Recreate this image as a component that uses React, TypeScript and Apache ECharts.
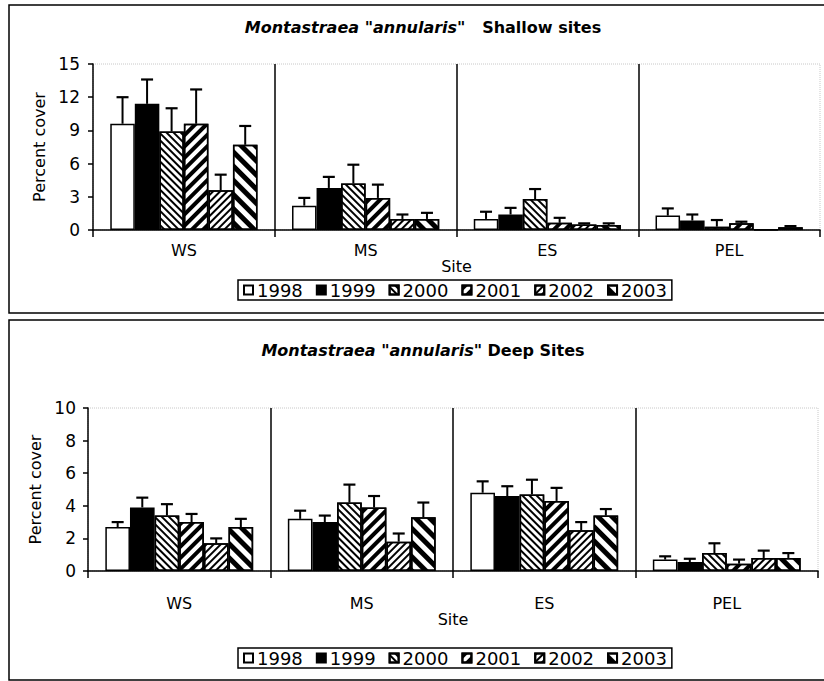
import React, { useEffect, useRef } from "react";
import * as echarts from "echarts";

const sites = ["WS", "MS", "ES", "PEL"];
const years = ["1998", "1999", "2000", "2001", "2002", "2003"];

// Shallow sites: mean percent cover per year (rows) and site (columns)
const shallowMean: number[][] = [
  [9.6, 2.2, 1.0, 1.3],
  [11.4, 3.8, 1.4, 0.85],
  [8.9, 4.2, 2.8, 0.3],
  [9.6, 2.9, 0.65, 0.6],
  [3.6, 1.0, 0.5, 0.05],
  [7.7, 1.0, 0.45, 0.25],
];
// Shallow sites: top of the error bar
const shallowErrTop: number[][] = [
  [12.0, 2.9, 1.65, 1.95],
  [13.6, 4.8, 2.0, 1.4],
  [11.0, 5.9, 3.7, 0.9],
  [12.7, 4.1, 1.1, 0.75],
  [5.0, 1.4, 0.6, 0.05],
  [9.4, 1.55, 0.6, 0.35],
];
// Deep sites
const deepMean: number[][] = [
  [2.7, 3.2, 4.8, 0.7],
  [3.9, 3.0, 4.6, 0.55],
  [3.4, 4.2, 4.7, 1.1],
  [3.0, 3.9, 4.3, 0.45],
  [1.7, 1.8, 2.5, 0.8],
  [2.7, 3.3, 3.4, 0.8],
];
const deepErrTop: number[][] = [
  [3.0, 3.7, 5.5, 0.9],
  [4.5, 3.4, 5.2, 0.75],
  [4.1, 5.3, 5.6, 1.7],
  [3.5, 4.6, 5.1, 0.7],
  [2.0, 2.3, 3.0, 1.25],
  [3.2, 4.2, 3.8, 1.1],
];

const shallowTicks = { min: 0, max: 15, interval: 3 };
const deepTicks = { min: 0, max: 10, interval: 2 };

const FONT = "DejaVu Sans";
const CAT_GAP = 0.19;

const decals: any[] = [
  null,
  null,
  { symbol: "rect", symbolSize: 1, dashArrayX: [1, 0], dashArrayY: [2, 2.5], rotation: Math.PI / 4, color: "#000" },
  { symbol: "rect", symbolSize: 1, dashArrayX: [1, 0], dashArrayY: [4, 4], rotation: -Math.PI / 4, color: "#000" },
  { symbol: "rect", symbolSize: 1, dashArrayX: [1, 0], dashArrayY: [1.8, 2.5], rotation: -Math.PI / 4, color: "#000" },
  { symbol: "rect", symbolSize: 1, dashArrayX: [1, 0], dashArrayY: [4.5, 4.5], rotation: Math.PI / 4, color: "#000" },
];
const fills = ["#fff", "#000", "#fff", "#fff", "#fff", "#fff"];

function barSeries(means: number[][], gi: number) {
  return years.map((y, i) => ({
    name: y,
    type: "bar",
    xAxisIndex: gi,
    yAxisIndex: gi,
    data: means[i],
    barGap: "0%",
    barCategoryGap: CAT_GAP * 100 + "%",
    itemStyle: {
      color: fills[i],
      borderColor: "#000",
      borderWidth: 1.5,
      ...(decals[i] ? { decal: decals[i] } : {}),
    },
    emphasis: { disabled: true },
    silent: true,
  }));
}

function errSeries(means: number[][], tops: number[][], gi: number) {
  const data: number[][] = [];
  for (let yi = 0; yi < years.length; yi++) {
    for (let ci = 0; ci < sites.length; ci++) {
      data.push([ci, yi, means[yi][ci], tops[yi][ci]]);
    }
  }
  return {
    type: "custom",
    name: "err" + gi,
    xAxisIndex: gi,
    yAxisIndex: gi,
    silent: true,
    z: 5,
    encode: { x: 0, y: 2 },
    data,
    renderItem: (params: any, api: any) => {
      const ci = api.value(0);
      const yi = api.value(1);
      const v = api.value(2);
      const e = api.value(3);
      if (!(e > v + 0.02)) return null;
      const base = api.coord([ci, v]);
      const top = api.coord([ci, e]);
      const band = api.size([1, 0])[0];
      const gw = band * (1 - CAT_GAP);
      const bw = gw / years.length;
      const x = base[0] - gw / 2 + (yi + 0.5) * bw;
      return {
        type: "group",
        children: [
          { type: "line", shape: { x1: x, y1: base[1], x2: x, y2: top[1] }, style: { stroke: "#000", lineWidth: 2 } },
          { type: "line", shape: { x1: x - 6, y1: top[1], x2: x + 6, y2: top[1] }, style: { stroke: "#000", lineWidth: 2.2 } },
        ],
      };
    },
  };
}

function xAxis(gi: number, labelMargin: number, nameGap: number) {
  return {
    type: "category",
    gridIndex: gi,
    data: sites,
    name: "Site",
    nameLocation: "middle",
    nameGap,
    nameTextStyle: { fontFamily: FONT, fontSize: 16, color: "#000", verticalAlign: "top", lineHeight: 16 },
    axisLine: { lineStyle: { color: "#000", width: 1.5 } },
    axisTick: { show: true, length: 7, lineStyle: { color: "#000", width: 1.5 } },
    axisLabel: { fontFamily: FONT, fontSize: 16, color: "#000", margin: labelMargin, lineHeight: 16 },
    splitLine: { show: true, showMinLine: false, showMaxLine: false, lineStyle: { color: "#000", width: 1.5 } },
  };
}

function yAxis(gi: number, t: { min: number; max: number; interval: number }, margin: number) {
  return {
    type: "value",
    gridIndex: gi,
    min: t.min,
    max: t.max,
    interval: t.interval,
    name: "Percent cover",
    nameLocation: "middle",
    nameGap: 40,
    nameTextStyle: { fontFamily: FONT, fontSize: 16, color: "#000" },
    axisLine: { show: true, lineStyle: { color: "#000", width: 1.5 } },
    axisTick: { show: true, length: 5, lineStyle: { color: "#000", width: 1.5 } },
    axisLabel: { fontFamily: FONT, fontSize: 17, color: "#000", margin },
    splitLine: { show: false },
  };
}

function legend(top: number) {
  return {
    data: years,
    left: 238,
    top,
    orient: "horizontal",
    icon: "rect",
    itemWidth: 9,
    itemHeight: 9,
    itemGap: 13,
    padding: [1, 5],
    borderColor: "#000",
    borderWidth: 1.5,
    selectedMode: false,
    textStyle: { fontFamily: FONT, fontSize: 18, color: "#000", padding: [0, 0, 0, -1] },
  };
}

function titleText(y: number, part: string) {
  return {
    type: "text",
    x: 423,
    y,
    style: {
      text: '{i|Montastraea "annularis"}{b|' + part + "}",
      align: "center",
      verticalAlign: "middle",
      rich: {
        i: { fontFamily: FONT, fontSize: 16, fontWeight: "bold", fontStyle: "italic", fill: "#000" },
        b: { fontFamily: FONT, fontSize: 16, fontWeight: "bold", fill: "#000" },
      },
    },
  };
}

export default function App() {
  const ref = useRef<HTMLDivElement>(null);
  useEffect(() => {
    if (!ref.current) return;
    const chart = echarts.init(ref.current, undefined, { renderer: "svg" });
    chart.setOption({
      animation: false,
      backgroundColor: "#fff",
      grid: [
        { left: 93, top: 64, width: 727, height: 166, show: true, borderColor: "#c8c8c8", borderWidth: 1, borderType: "dotted" } as any,
        { left: 88, top: 408, width: 730, height: 163, show: true, borderColor: "#c8c8c8", borderWidth: 1, borderType: "dotted" } as any,
      ],
      xAxis: [xAxis(0, 12, 23), xAxis(1, 24, 29)],
      yAxis: [yAxis(0, shallowTicks, 13), yAxis(1, deepTicks, 12)],
      legend: [legend(280), legend(648)],
      series: [
        ...barSeries(shallowMean, 0),
        ...barSeries(deepMean, 1),
        errSeries(shallowMean, shallowErrTop, 0),
        errSeries(deepMean, deepErrTop, 1),
      ],
      graphic: [
        { type: "rect", shape: { x: 9, y: 5, width: 830, height: 308 }, style: { fill: "none", stroke: "#000", lineWidth: 1.5 }, silent: true },
        { type: "rect", shape: { x: 9, y: 320, width: 830, height: 360 }, style: { fill: "none", stroke: "#000", lineWidth: 1.5 }, silent: true },
        titleText(27, "   Shallow sites"),
        titleText(350, " Deep Sites"),
      ],
    } as any);
    return () => chart.dispose();
  }, []);
  return <div ref={ref} style={{ position: "fixed", left: 0, top: 0, width: 824, height: 681 }} />;
}
